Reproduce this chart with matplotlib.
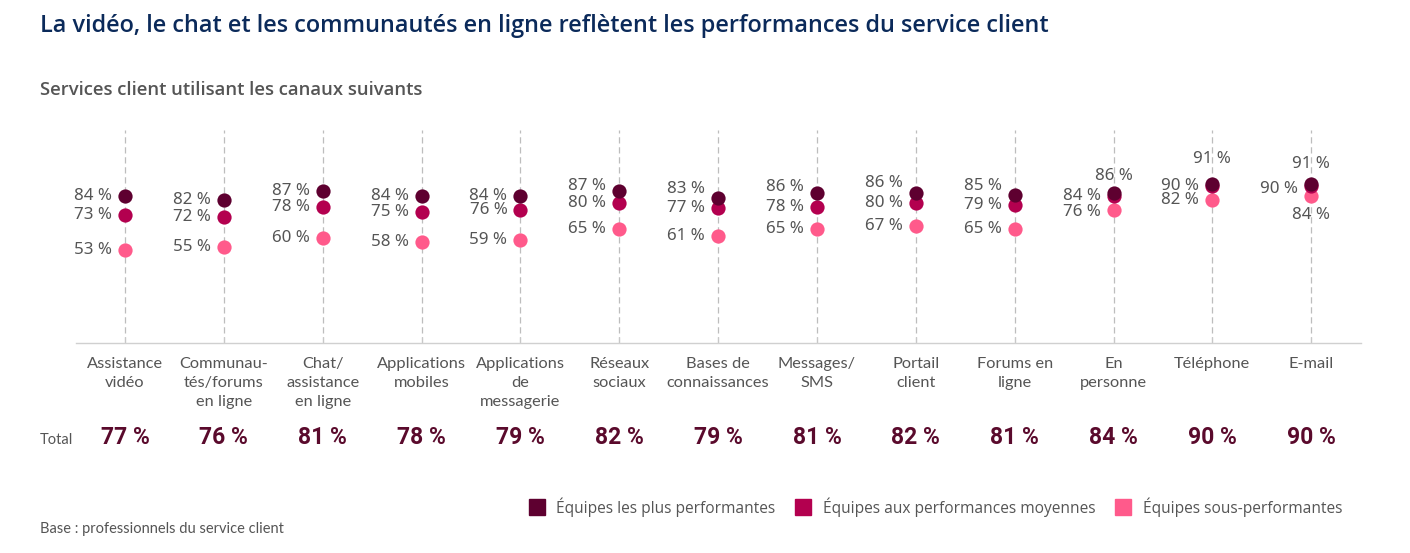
#!/usr/bin/env python3

import matplotlib
matplotlib.use('Agg')
import matplotlib.pyplot as plt
import matplotlib.transforms as mtransforms
from matplotlib.lines import Line2D


categories = ['Assistance\nvidéo', 'Communau-\ntés/forums\nen ligne', 'Chat/\nassistance\nen ligne',
              'Applications\nmobiles', 'Applications\nde\nmessagerie', 'Réseaux\nsociaux',
              'Bases de\nconnaissances', 'Messages/\nSMS', 'Portail\nclient', 'Forums en\nligne',
              'En\npersonne', 'Téléphone', 'E-mail']

top = [84, 82, 87, 84, 84, 87, 83, 86, 86, 85, 86, 91, 91]
mid = [73, 72, 78, 75, 76, 80, 77, 78, 80, 79, 84, 90, 90]
low = [53, 55, 60, 58, 59, 65, 61, 65, 67, 65, 76, 82, 84]
total = [77, 76, 81, 78, 79, 82, 79, 81, 82, 81, 84, 90, 90]

series_names = ['Équipes les plus performantes', 'Équipes aux performances moyennes',
                'Équipes sous-performantes']

colors = ['#5e0030', '#b3004f', '#ff5a8b']
grey = '#555555'

# label placement (pixel offsets) : default left of the dot, some moved
def left(dy=0):
    return (-13, dy, 'right', 'center')

def above(dy):
    return (0, dy, 'center', 'center')

top_pos = [left()] * 13
top_pos[5] = left(5)
top_pos[6] = left(9)
top_pos[7] = left(6)
top_pos[8] = left(10)
top_pos[9] = left(9)
top_pos[10] = above(17)
top_pos[11] = above(25)
top_pos[12] = above(20)

mid_pos = [left()] * 13
mid_pos[10] = left(0)
mid_pos[12] = left(-3)

low_pos = [left()] * 13
low_pos[10] = left(-2)
low_pos[12] = above(-19)


fig = plt.figure(figsize=(14.1, 5.53), dpi=100)
ax = fig.add_axes([0.0536, 0.38, 0.9114, 0.385])

x = list(range(len(categories)))

for xi in x:
    ax.axvline(xi, color='#bdbdbd', lw=0.9, ls=(0, (5, 3)), zorder=0)

for vals, col, pos in [(low, colors[2], low_pos), (mid, colors[1], mid_pos), (top, colors[0], top_pos)]:
    ax.scatter(x, vals, s=105, color=col, zorder=3, linewidths=0)
    for xi, v, (dx, dy, ha, va) in zip(x, vals, pos):
        ax.annotate('%d %%' % v, (xi, v), xytext=(dx * 0.72, dy * 0.72), textcoords='offset points',
                    ha=ha, va=va, fontsize=12.2, color=grey, family='Noto Sans', fontweight='medium',
                    zorder=4)

ax.set_xlim(-0.5, len(categories) - 0.5)
ax.set_ylim(0, 122)
for s in ['top', 'right', 'left']:
    ax.spines[s].set_visible(False)
ax.spines['bottom'].set_color('#d0d0d0')
ax.spines['bottom'].set_linewidth(1)
ax.set_yticks([])
ax.set_xticks(x)
ax.set_xticklabels(categories, fontsize=11.8, color=grey, family='Lato', linespacing=1.45)
ax.tick_params(axis='x', direction='in', length=4, color='#c8c8c8', pad=10)

trans = mtransforms.blended_transform_factory(ax.transData, fig.transFigure)
for xi, t in zip(x, total):
    ax.text(xi, 1 - 438 / 553, '%d %%' % t, transform=trans, ha='center', va='center',
            fontsize=16.5, fontweight='bold', color='#5a0a2c', family='Roboto')
fig.text(40 / 1410, 1 - 440 / 553, 'Total', ha='left', va='center', fontsize=10.5,
         color=grey, family='Lato')

fig.text(40 / 1410, 1 - 26 / 553, 'La vidéo, le chat et les communautés en ligne reflètent les performances du service client',
         ha='left', va='center', fontsize=16.9, color='#0b2a5a', family='Open Sans', fontweight='semibold')
fig.text(40 / 1410, 1 - 90 / 553, 'Services client utilisant les canaux suivants',
         ha='left', va='center', fontsize=13.3, color=grey, family='Open Sans', fontweight='semibold')
fig.text(40 / 1410, 1 - 529 / 553, 'Base : professionnels du service client',
         ha='left', va='center', fontsize=10.5, color=grey, family='Lato')

handles = [Line2D([], [], marker='s', ls='', markersize=11, color=c) for c in colors]
leg = fig.legend(handles, series_names, loc='center right', bbox_to_anchor=(0.962, 1 - 507 / 553),
                 ncol=3, frameon=False, handletextpad=0.75, columnspacing=1.3, handlelength=1.0,
                 prop={'family': 'Open Sans', 'size': 11.2})
for t in leg.get_texts():
    t.set_color(grey)

plt.savefig('out.png', dpi=100)
